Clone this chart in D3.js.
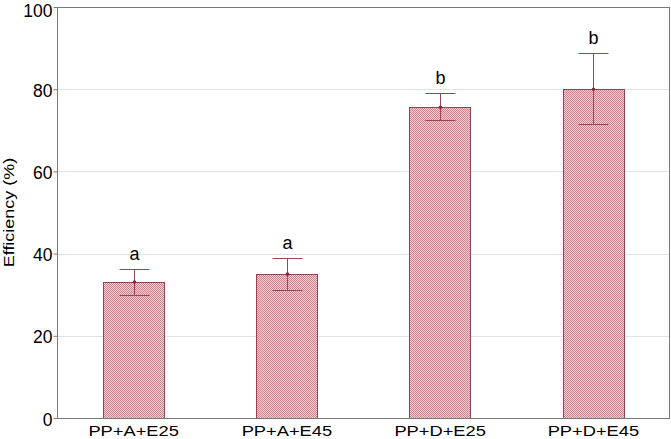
<!DOCTYPE html>
<html><head><meta charset="utf-8">
<script src="https://cdn.jsdelivr.net/npm/d3@7"></script>
<style>body{margin:0;background:#fff}svg{display:block}text{font-family:"Liberation Sans",Arial,sans-serif}</style>
</head><body><svg id="c" width="671" height="439"></svg>
<script>
const categories = ["PP+A+E25","PP+A+E45","PP+D+E25","PP+D+E45"];
const means = [33.1, 35.0, 75.6, 80.0];
const errLow = [29.9, 31.1, 72.4, 71.5];
const errHigh = [36.2, 38.9, 79.0, 88.7];
const letters = ["a","a","b","b"];
const yTicks = [0,20,40,60,80,100];

const svg = d3.select("#c");
const m = {l:57, r:1, t:7, b:21};
const W = 671, H = 439;
const x = d3.scaleBand().domain(categories).range([m.l, W-m.r]).paddingInner(0.6).paddingOuter(0.3);
const y = d3.scaleLinear().domain([0,100]).range([H-m.b, m.t]);

const defs = svg.append("defs");
const pat = defs.append("pattern").attr("id","hatch").attr("patternUnits","userSpaceOnUse")
  .attr("width",2).attr("height",2);
pat.append("rect").attr("width",2).attr("height",2).attr("fill","#efd3d5");
pat.append("rect").attr("x",0).attr("y",0).attr("width",1).attr("height",1).attr("fill","#c4848b");
pat.append("rect").attr("x",1).attr("y",1).attr("width",1).attr("height",1).attr("fill","#c4848b");

// gridlines
svg.append("g").selectAll("line").data(yTicks.filter(d=>d>0&&d<100)).join("line")
  .attr("x1",m.l).attr("x2",W-m.r).attr("y1",d=>Math.round(y(d))+0.5).attr("y2",d=>Math.round(y(d))+0.5)
  .attr("stroke","#e2e2e2").attr("stroke-width",1);

// bars
svg.append("g").selectAll("rect").data(categories).join("rect")
  .attr("x",d=>Math.round(x(d))+0.5).attr("width",Math.round(x.bandwidth()))
  .attr("y",(d,i)=>Math.round(y(means[i]))+0.5).attr("height",(d,i)=>y(0)-Math.round(y(means[i])))
  .attr("fill","url(#hatch)").attr("stroke","#8e4550").attr("stroke-width",1);

// error bars
const eb = svg.append("g").attr("stroke","#9a4652").attr("stroke-width",1);
categories.forEach((c,i)=>{
  const cx = Math.round(x(c)+x.bandwidth()/2)+0.5;
  eb.append("line").attr("x1",cx).attr("x2",cx).attr("y1",y(errLow[i])).attr("y2",y(errHigh[i]));
  eb.append("line").attr("x1",cx-15).attr("x2",cx+15).attr("y1",Math.round(y(errHigh[i]))+0.5).attr("y2",Math.round(y(errHigh[i]))+0.5);
  eb.append("line").attr("x1",cx-15).attr("x2",cx+15).attr("y1",Math.round(y(errLow[i]))+0.5).attr("y2",Math.round(y(errLow[i]))+0.5);
  svg.append("circle").attr("cx",cx).attr("cy",y(means[i])).attr("r",1.8).attr("fill","#8a2a38");
  svg.append("text").attr("x",cx).attr("y",y(errHigh[i])-9).attr("text-anchor","middle")
    .attr("font-size",18).attr("fill","#000").text(letters[i]);
});

// frame
svg.append("rect").attr("x",m.l+0.5).attr("y",m.t+0.5).attr("width",W-m.r-m.l-1).attr("height",H-m.b-m.t)
  .attr("fill","none").attr("stroke","#7a7a7a").attr("stroke-width",1);

// y axis
const ya = svg.append("g").attr("transform",`translate(${m.l+0.5},0)`)
  .call(d3.axisLeft(y).tickValues(yTicks).tickSize(4).tickPadding(1));
ya.select(".domain").remove();
ya.selectAll("line").attr("stroke","#7a7a7a");
ya.selectAll("text").attr("font-size",17.5).attr("fill","#000")
  .attr("dy",d=>d===100?"0.52em":"0.4em");

// x axis
const xa = svg.append("g").attr("transform",`translate(0,${H-m.b+0.5})`)
  .call(d3.axisBottom(x).tickSize(0).tickPadding(0));
xa.select(".domain").remove();
xa.selectAll(".tick text").attr("font-size",15.5).attr("fill","#000").attr("dy",null).attr("y",17.3)
  .attr("transform","scale(1.18,1)");

// y label
svg.append("text").attr("transform",`translate(14,${(y(0)+y(100))/2}) rotate(-90) scale(1.2,1)`)
  .attr("text-anchor","middle").attr("font-size",15).attr("fill","#000").text("Efficiency (%)");
</script></body></html>
